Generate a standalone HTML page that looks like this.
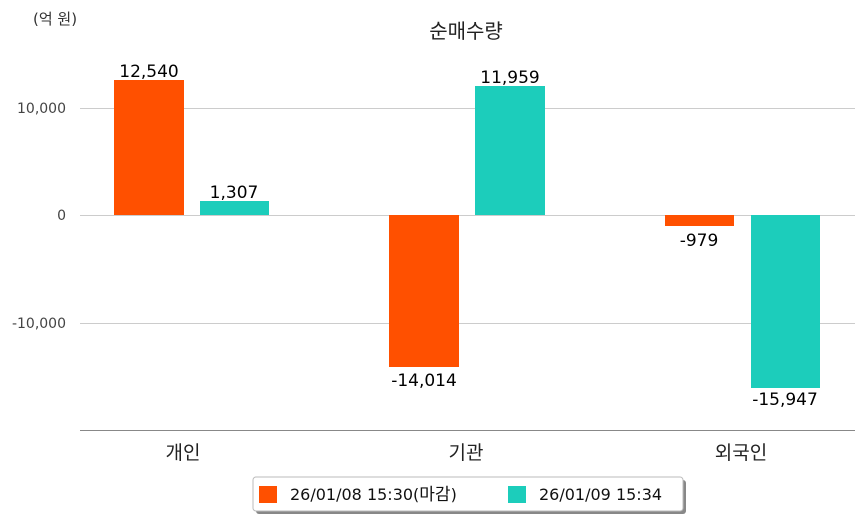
<!DOCTYPE html>
<html><head><meta charset="utf-8"><style>
body{margin:0;background:#fff;}
svg text{font-family:"DejaVu Sans","Noto Sans CJK KR",sans-serif;}
</style></head><body>
<svg width="863" height="520" xmlns="http://www.w3.org/2000/svg">
<rect width="863" height="520" fill="#fff"/>
<text x="33" y="24" font-size="15" fill="#333">(억 원)</text>
<text x="466" y="38" font-size="20" fill="#222" text-anchor="middle">순매수량</text>
<g stroke="#ccc" stroke-width="1">
<line x1="80" y1="108.5" x2="855" y2="108.5"/>
<line x1="80" y1="215.5" x2="855" y2="215.5"/>
<line x1="80" y1="323.5" x2="855" y2="323.5"/>
</g>
<line x1="80" y1="430.5" x2="855" y2="430.5" stroke="#888" stroke-width="1"/>
<g font-size="14" fill="#444" text-anchor="end">
<text x="66" y="113">10,000</text>
<text x="66" y="220">0</text>
<text x="66" y="328">-10,000</text>
</g>
<rect x="114" y="80" width="70" height="135" fill="#ff5000"/>
<rect x="200" y="201" width="69" height="14" fill="#1ccdbb"/>
<rect x="389" y="215" width="70" height="152" fill="#ff5000"/>
<rect x="475" y="86" width="70" height="129" fill="#1ccdbb"/>
<rect x="665" y="215" width="69" height="11" fill="#ff5000"/>
<rect x="751" y="215" width="69" height="173" fill="#1ccdbb"/>
<g font-size="17" fill="#000" text-anchor="middle">
<text x="149" y="77">12,540</text>
<text x="234" y="198">1,307</text>
<text x="424" y="386">-14,014</text>
<text x="510" y="83">11,959</text>
<text x="699" y="246">-979</text>
<text x="785" y="405">-15,947</text>
</g>
<g font-size="19" fill="#222" text-anchor="middle">
<text x="183" y="459">개인</text>
<text x="466" y="459">기관</text>
<text x="741" y="459">외국인</text>
</g>
<rect x="256" y="480" width="430" height="34" rx="3" fill="#888"/>
<rect x="253" y="477" width="430" height="34" rx="3" fill="#fff" stroke="#bbb"/>
<rect x="259" y="486" width="18" height="17" fill="#ff5000"/>
<text x="290" y="500" font-size="16" fill="#111">26/01/08 15:30(<tspan font-size="17">마감</tspan>)</text>
<rect x="508" y="486" width="18" height="17" fill="#1ccdbb"/>
<text x="539" y="500" font-size="16" fill="#111">26/01/09 15:34</text>
</svg>
</body></html>
